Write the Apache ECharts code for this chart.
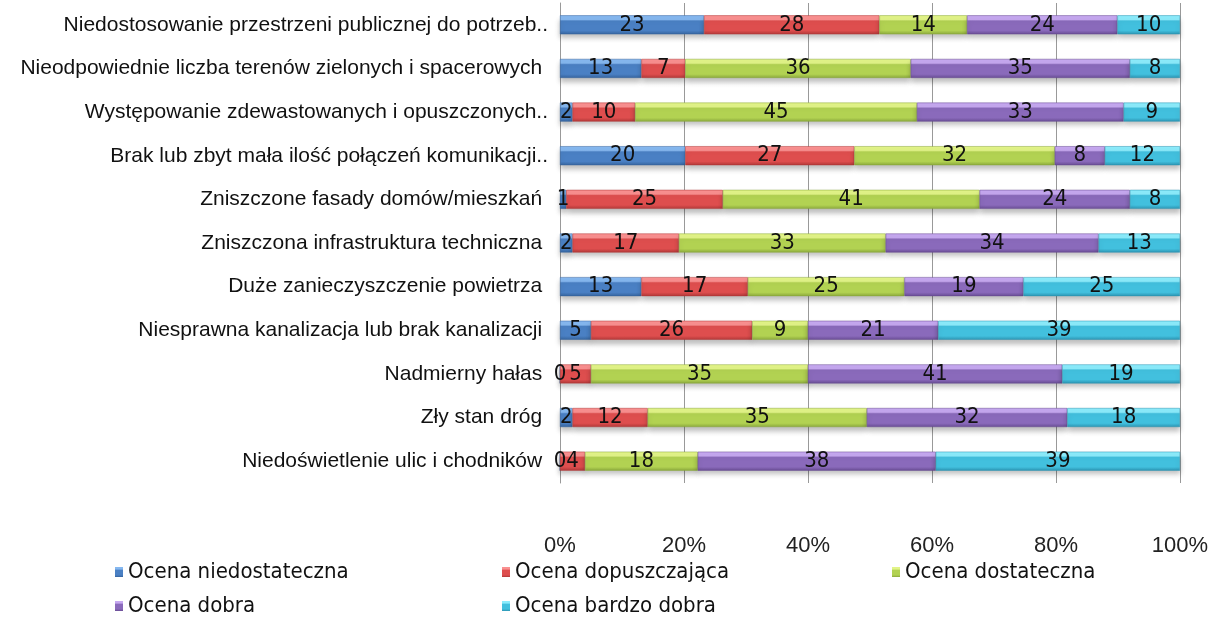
<!DOCTYPE html>
<html>
<head>
<meta charset="utf-8">
<script src="https://cdn.jsdelivr.net/npm/echarts@6/dist/echarts.min.js"></script>
<style>
  html, body { margin: 0; padding: 0; background: #fff; }
  #chart { width: 1213px; height: 619px; }
</style>
</head>
<body>
<div id="chart"></div>
<script>
// kategorie (od góry do dołu)
var categories = [
  'Niedostosowanie przestrzeni publicznej do potrzeb..',
  'Nieodpowiednie liczba terenów zielonych i spacerowych ',
  'Występowanie zdewastowanych i opuszczonych..',
  'Brak lub zbyt mała ilość połączeń komunikacji..',
  'Zniszczone fasady domów/mieszkań ',
  'Zniszczona infrastruktura techniczna ',
  'Duże zanieczyszczenie powietrza ',
  'Niesprawna kanalizacja lub brak kanalizacji ',
  'Nadmierny hałas ',
  'Zły stan dróg ',
  'Niedoświetlenie ulic i chodników '
];
var seriesNames = ['Ocena niedostateczna', 'Ocena dopuszczająca', 'Ocena dostateczna', 'Ocena dobra', 'Ocena bardzo dobra'];

// liczba odpowiedzi
var niedostateczna = [23, 13, 2, 20, 1, 2, 13, 5, 0, 2, 0];
var dopuszczajaca  = [28, 7, 10, 27, 25, 17, 17, 26, 5, 12, 4];
var dostateczna    = [14, 36, 45, 32, 41, 33, 25, 9, 35, 35, 18];
var dobra          = [24, 35, 33, 8, 24, 34, 19, 21, 41, 32, 38];
var bardzoDobra    = [10, 8, 9, 12, 8, 13, 25, 39, 19, 18, 39];

var xTicks = [0, 20, 40, 60, 80, 100];

// kolory: [jasny, bazowy, ciemny]
var colors = [
  ['#86b8f0', '#4a80c4', '#36649e'],
  ['#fa9090', '#de4e4e', '#b03838'],
  ['#e2f488', '#b2d252', '#8aa83c'],
  ['#c6a8f0', '#8a6abb', '#684c93'],
  ['#8cecfc', '#42c0de', '#2c94b2']
];

var raw = [niedostateczna, dopuszczajaca, dostateczna, dobra, bardzoDobra];
var totals = categories.map(function (c, i) {
  var s = 0;
  for (var k = 0; k < raw.length; k++) s += raw[k][i];
  return s;
});

var series = [];
for (var k = 0; k < raw.length; k++) {
  (function (k) {
    series.push({
      name: seriesNames[k],
      type: 'bar',
      stack: 'all',
      barWidth: 19,
      data: raw[k].map(function (v, i) { return { value: v / totals[i] * 100, count: v }; }),
      itemStyle: {
        color: {
          type: 'linear', x: 0, y: 0, x2: 0, y2: 1,
          colorStops: [
            { offset: 0, color: colors[k][0] },
            { offset: 0.22, color: colors[k][0] },
            { offset: 0.3, color: colors[k][1] },
            { offset: 0.8, color: colors[k][1] },
            { offset: 1, color: colors[k][2] }
          ]
        },
        borderColor: colors[k][2],
        borderWidth: 0.5,
        shadowColor: 'rgba(0,0,0,0.25)',
        shadowBlur: 5,
        shadowOffsetY: 4
      },
      label: {
        show: true,
        position: 'inside',
        color: '#111',
        fontFamily: 'DejaVu Sans Condensed, sans-serif',
        fontSize: 22,
        formatter: function (p) { return p.data.count; }
      }
    });
  })(k);
}

var legendPos = [[110, 556], [497, 556], [887, 556], [110, 590], [497, 590]];
var legends = seriesNames.map(function (n, i) {
  return {
    data: [n],
    left: legendPos[i][0],
    top: legendPos[i][1],
    icon: 'rect',
    itemWidth: 8,
    itemHeight: 10,
    itemGap: 5,
    itemStyle: { borderWidth: 0, shadowBlur: 0, shadowOffsetY: 0 },
    textStyle: { fontFamily: 'DejaVu Sans Condensed, sans-serif', fontSize: 22, color: '#111' }
  };
});

var option = {
  backgroundColor: '#fff',
  animation: false,
  color: colors.map(function (c) { return c[1]; }),
  grid: { left: 560, right: 33, top: 3, bottom: 136, containLabel: false },
  legend: legends,
  xAxis: {
    type: 'value',
    min: 0,
    max: 100,
    interval: 20,
    axisLine: { show: false },
    axisTick: { show: false },
    splitLine: { show: true, lineStyle: { color: '#999', width: 1 } },
    axisLabel: {
      margin: 52,
      fontFamily: 'Liberation Sans, Arial, sans-serif',
      fontSize: 22,
      color: '#222',
      formatter: function (v) { return xTicks.indexOf(v) >= 0 ? v + '%' : ''; }
    }
  },
  yAxis: {
    type: 'category',
    inverse: true,
    data: categories,
    axisLine: { show: true, lineStyle: { color: '#999' } },
    axisTick: { show: false },
    axisLabel: {
      margin: 12,
      fontFamily: 'Liberation Sans, Arial, sans-serif',
      fontSize: 21,
      color: '#111'
    }
  },
  series: series
};

var chart = echarts.init(document.getElementById('chart'));
chart.setOption(option);
</script>
</body>
</html>
